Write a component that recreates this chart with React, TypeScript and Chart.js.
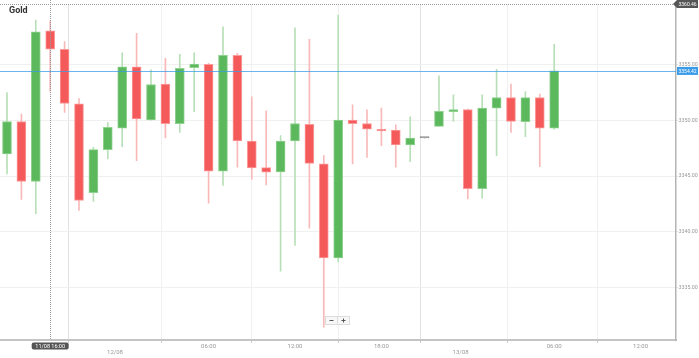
import React, { useEffect, useRef } from "react";
import Chart from "chart.js/auto";

const opens = [3346.98, 3349.89, 3344.51, 3358.02, 3356.36, 3351.47, 3343.5, 3347.37, 3349.3, 3354.78, 3350.04, 3353.23, 3349.69, 3354.71, 3355.02, 3345.43, 3355.82, 3348.14, 3345.76, 3345.38, 3348.14, 3349.63, 3346.09, 3337.66, 3350.02, 3349.71, 3349.18, 3349.13, 3347.79, 3348.41, 3349.45, 3350.76, 3350.96, 3343.88, 3351.09, 3352.04, 3349.87, 3352.04, 3349.3];
const highs = [3352.48, 3350.55, 3358.97, 3358.9, 3357.04, 3351.95, 3347.57, 3349.8, 3356.05, 3357.79, 3354.51, 3355.55, 3355.91, 3356.05, 3355.1, 3358.38, 3356.0, 3352.1, 3350.85, 3348.62, 3358.29, 3357.25, 3346.83, 3359.42, 3351.38, 3350.94, 3351.09, 3349.6, 3350.31, 3348.41, 3353.97, 3352.28, 3351.0, 3352.28, 3354.57, 3353.23, 3352.57, 3352.34, 3356.8];
const lows = [3345.2, 3342.9, 3341.63, 3352.6, 3350.7, 3341.92, 3342.72, 3346.54, 3347.63, 3346.38, 3350.0, 3348.41, 3348.91, 3350.76, 3342.57, 3344.15, 3345.79, 3344.69, 3344.21, 3336.47, 3338.79, 3340.34, 3331.45, 3337.3, 3346.09, 3346.68, 3347.72, 3345.79, 3346.29, 3348.41, 3349.45, 3349.89, 3342.96, 3343.02, 3346.83, 3348.91, 3348.53, 3345.85, 3349.18];
const closes = [3349.89, 3344.51, 3357.93, 3356.36, 3351.5, 3342.81, 3347.37, 3349.36, 3354.78, 3350.13, 3353.2, 3349.69, 3354.66, 3355.04, 3345.43, 3355.82, 3348.14, 3345.73, 3345.34, 3348.14, 3349.71, 3346.14, 3337.66, 3350.02, 3349.69, 3349.21, 3349.04, 3347.79, 3348.41, 3348.41, 3350.79, 3350.96, 3343.88, 3351.09, 3352.04, 3349.89, 3352.04, 3349.3, 3354.42];

const xTickPositions = [7.5, 14, 20, 26, 31.5, 38, 44];
const xTickLabels: (string | string[])[] = [["", "12/08"], "06:00", "12:00", "18:00", ["", "13/08"], "06:00", "12:00"];
const yTickValues = [3335, 3340, 3345, 3350, 3355];

const title = "Gold";
const crosshairIndex = 3;
const crosshairLabel = "11/08 16:00";
const crosshairPrice = 3360.46;

const GREEN = "#5cb85c";
const RED = "#f55a5a";
const GREY = "#8a8a8a";
const BLUE = "#3a9be8";
const FONT = "Roboto, 'DejaVu Sans', sans-serif";

export default function App() {
  const ref = useRef<HTMLCanvasElement | null>(null);

  useEffect(() => {
    const canvas = ref.current;
    if (!canvas) return;
    const dir = opens.map((o, i) => (closes[i] > o ? 1 : closes[i] < o ? -1 : 0));
    const bodyColors = dir.map((d) => (d > 0 ? GREEN : d < 0 ? RED : GREY));
    const bodyBorders = dir.map((d) => (d > 0 ? "#8fd18f" : d < 0 ? "#fb9a9a" : GREY));
    const wickColors = dir.map((d) => (d > 0 ? "#b8e0b8" : d < 0 ? "#f9b9b9" : GREY));

    const overlay = {
      id: "overlay",
      afterDatasetsDraw(chart: any) {
        const { ctx, chartArea, scales } = chart;
        const x = scales.x;
        const y = scales.y;
        ctx.save();
        ctx.lineWidth = 1;
        ctx.strokeStyle = "#9a9a9a";
        ctx.setLineDash([1, 1]);
        const cx = Math.round(x.getPixelForValue(crosshairIndex)) + 0.5;
        ctx.beginPath();
        ctx.moveTo(cx, 0);
        ctx.lineTo(cx, chartArea.bottom);
        ctx.stroke();
        const cy = Math.max(Math.round(y.getPixelForValue(crosshairPrice)), 2) + 0.5;
        ctx.beginPath();
        ctx.moveTo(chartArea.left, cy);
        ctx.lineTo(chartArea.right, cy);
        ctx.stroke();
        ctx.setLineDash([]);
        const yl = Math.round(y.getPixelForValue(closes[closes.length - 1]));
        ctx.fillStyle = BLUE;
        ctx.globalAlpha = 0.75;
        ctx.fillRect(chartArea.left, yl, chartArea.right - chartArea.left, 1);
        ctx.globalAlpha = 1;
        ctx.restore();
      },
      afterDraw(chart: any) {
        const { ctx, chartArea, scales } = chart;
        const x = scales.x;
        const y = scales.y;
        ctx.save();
        ctx.fillStyle = "#333";
        ctx.font = "bold 9px " + FONT;
        ctx.textBaseline = "middle";
        ctx.textAlign = "left";
        ctx.fillText(title, 9, 11);

        ctx.font = "5px " + FONT;
        const cy = Math.max(y.getPixelForValue(crosshairPrice), 4);
        const r = chartArea.right;
        ctx.fillStyle = "#555";
        ctx.beginPath();
        ctx.moveTo(r - 3, cy);
        ctx.lineTo(r + 1, cy - 4);
        ctx.lineTo(r + 22, cy - 4);
        ctx.lineTo(r + 22, cy + 4);
        ctx.lineTo(r + 1, cy + 4);
        ctx.closePath();
        ctx.fill();
        ctx.fillStyle = "#fff";
        ctx.fillText(crosshairPrice.toFixed(2), r + 2.5, cy + 0.5);
        const last = closes[closes.length - 1];
        const yl = y.getPixelForValue(last);
        ctx.fillStyle = BLUE;
        ctx.fillRect(r + 1, yl - 4, 21, 8);
        ctx.fillStyle = "#fff";
        ctx.fillText(last.toFixed(2), r + 2.5, yl + 0.5);
        const cx = x.getPixelForValue(crosshairIndex);
        ctx.fillStyle = "#555";
        const tw = 37;
        const by = chartArea.bottom + 2.5;
        ctx.beginPath();
        (ctx as any).roundRect ? (ctx as any).roundRect(cx - tw / 2, by, tw, 7, 2) : ctx.rect(cx - tw / 2, by, tw, 7);
        ctx.fill();
        ctx.fillStyle = "#fff";
        ctx.textAlign = "center";
        ctx.font = "5.5px " + FONT;
        ctx.fillText(crosshairLabel, cx, by + 3.7);
        const bx = 325.5;
        const byy = 316.5;
        ctx.fillStyle = "#f7f7f7";
        ctx.strokeStyle = "#dddddd";
        ctx.lineWidth = 1;
        ctx.fillRect(bx, byy, 12, 8);
        ctx.strokeRect(bx, byy, 12, 8);
        ctx.fillRect(bx + 12, byy, 12, 8);
        ctx.strokeRect(bx + 12, byy, 12, 8);
        ctx.strokeStyle = "#555";
        ctx.beginPath();
        ctx.moveTo(bx + 4, byy + 4);
        ctx.lineTo(bx + 8, byy + 4);
        ctx.moveTo(bx + 16, byy + 4);
        ctx.lineTo(bx + 20, byy + 4);
        ctx.moveTo(bx + 18, byy + 2);
        ctx.lineTo(bx + 18, byy + 6);
        ctx.stroke();
        ctx.restore();
      },
    };

    const chart = new Chart(canvas, {
      type: "bar",
      data: {
        datasets: [
          {
            label: "wick",
            data: lows.map((l, i) => ({ x: i, y: [l, highs[i]] })) as any,
            backgroundColor: wickColors,
            borderWidth: 0,
            barThickness: 1,
            grouped: false,
            order: 2,
          } as any,
          {
            label: "body",
            data: opens.map((o, i) => ({ x: i, y: [o, closes[i]] })) as any,
            backgroundColor: bodyColors,
            borderColor: bodyBorders,
            borderWidth: 1,
            borderSkipped: false,
            barThickness: 9,
            minBarLength: 1.5,
            grouped: false,
            order: 1,
          } as any,
        ],
      },
      options: {
        animation: false,
        responsive: true,
        maintainAspectRatio: false,
        layout: { padding: 0 },
        plugins: { legend: { display: false }, tooltip: { enabled: false } },
        scales: {
          x: {
            type: "linear",
            min: -0.486,
            max: 46.46,
            offset: false,
            afterFit: (s: any) => {
              s.height = 18;
            },
            afterBuildTicks: (s: any) => {
              s.ticks = xTickPositions.map((v) => ({ value: v }));
            },
            ticks: {
              autoSkip: false,
              maxRotation: 0,
              padding: 0,
              color: "#999",
              font: { size: 6, family: FONT, lineHeight: 1.1 },
              callback: (v: any) => {
                const idx = xTickPositions.indexOf(Number(v));
                return idx >= 0 ? xTickLabels[idx] : "";
              },
            },
            grid: {
              color: (c: any) => {
                const idx = xTickPositions.indexOf(c.tick ? c.tick.value : -1);
                return idx >= 0 && Array.isArray(xTickLabels[idx]) ? "#e2e2e2" : "#f0f0f0";
              },
              tickLength: 3,
              tickColor: "#cccccc",
            },
            border: { display: true, color: "#c4c4c4", width: 2 },
          },
          y: {
            type: "linear",
            position: "right",
            min: 3330.31,
            max: 3360.4,
            afterFit: (s: any) => {
              s.width = 23;
            },
            afterBuildTicks: (s: any) => {
              s.ticks = yTickValues.map((v) => ({ value: v }));
            },
            ticks: {
              padding: 1,
              color: "#999",
              font: { size: 5.3, family: FONT },
              callback: (v: any) => Number(v).toFixed(2),
            },
            grid: { color: "#f0f0f0", tickLength: 1.5, tickColor: "#cccccc" },
            border: { display: true, color: "#b4b4b4", width: 1.5 },
          },
        },
      },
      plugins: [overlay],
    } as any);
    return () => chart.destroy();
  }, []);

  return (
    <div style={{ position: "absolute", left: 0, top: 0, width: 699, height: 358, background: "#fff" }}>
      <canvas ref={ref} />
    </div>
  );
}
